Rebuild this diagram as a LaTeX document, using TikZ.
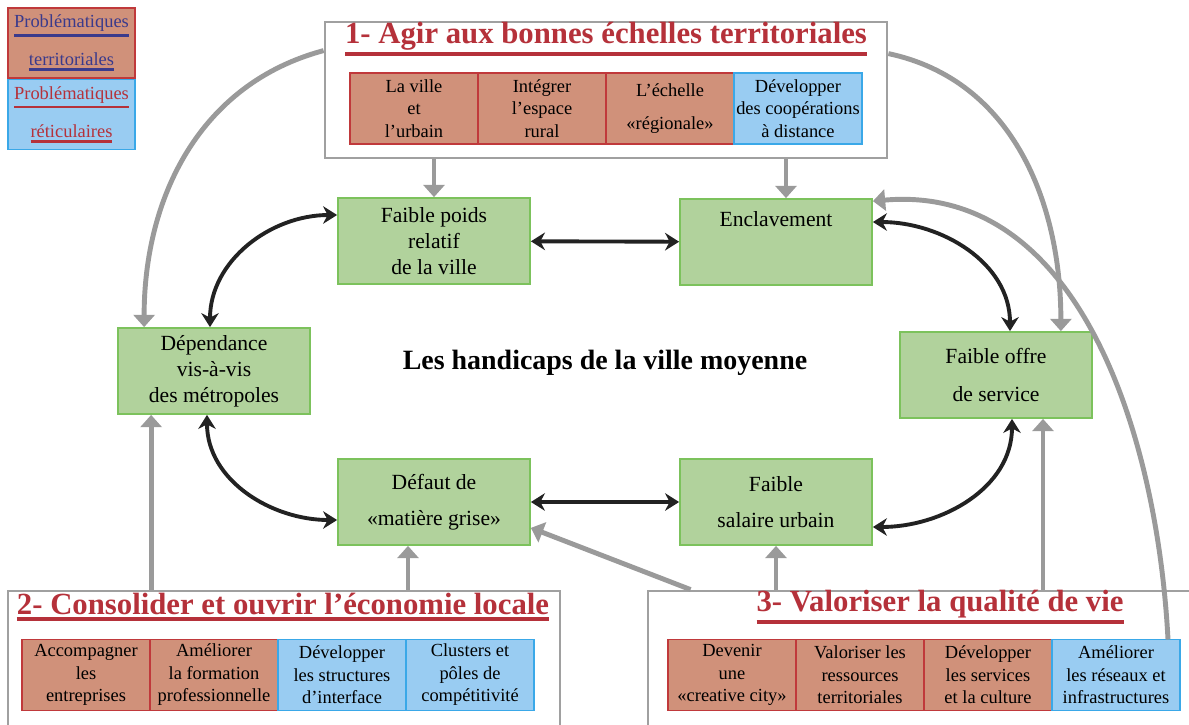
\documentclass[tikz,border=0pt]{standalone}
\usepackage{fontspec}
\setmainfont{Liberation Serif}
\usepackage{tikz}
\usetikzlibrary{positioning,arrows.meta}
\definecolor{brique}{HTML}{D0917A}
\definecolor{rougebord}{HTML}{C0393B}
\definecolor{bleufond}{HTML}{99CCF2}
\definecolor{bleubord}{HTML}{3AA8E8}
\definecolor{vertfond}{HTML}{B1D29C}
\definecolor{vertbord}{HTML}{7CC25C}
\definecolor{grisbord}{HTML}{A0A0A0}
\definecolor{grisfleche}{HTML}{9A9A9A}
\definecolor{rouge}{HTML}{B5313A}
\definecolor{bleunuit}{HTML}{3A3A8C}
\definecolor{noir}{HTML}{222222}
\newcommand\souligne[2][1.6pt]{\setbox0\hbox{#2}\leavevmode\vtop{\copy0\nointerlineskip\kern1.5pt\hbox{\rule{\wd0}{#1}}}}

\begin{document}
\begin{tikzpicture}[
  node distance=0pt,
  probleme/.style={draw=vertbord,fill=vertfond,line width=1pt,minimum width=3.84cm,minimum height=1.72cm,align=center,font=\fontsize{12.3}{14.7}\selectfont},
  axe/.style={draw=grisbord,fill=white,line width=1.6pt,inner sep=0pt},
  terri/.style={draw=rougebord,fill=brique,line width=0.8pt,outer sep=0pt,minimum width=2.56cm,minimum height=1.42cm,align=center,inner sep=1pt,font=\fontsize{10.5}{12.8}\selectfont},
  reti/.style={terri,draw=bleubord,fill=bleufond},
  titre/.style={text=rouge,font=\fontsize{17.5}{20}\selectfont\bfseries,inner sep=0pt},
  legende/.style={minimum width=2.54cm,minimum height=1.4cm,align=center,line width=0.8pt,font=\fontsize{10.5}{12}\selectfont},
  lien/.style={draw=grisfleche,line width=2.8pt,-{Triangle[width=12pt,length=7pt]}},
  reciproque/.style={draw=noir,line width=2.2pt,{Stealth[length=8pt,width=10pt]}-{Stealth[length=8pt,width=10pt]}}
]
\useasboundingbox (0,0) rectangle (23.78,-14.48);
\clip (0,0) rectangle (23.78,-14.48);

\node[legende,draw=rougebord,fill=brique,text=bleunuit] (leg1) at (1.43,-0.86) {\souligne{Problématiques}\\[8pt]\souligne{territoriales}};
\node[legende,draw=bleubord,fill=bleufond,text=rouge,below=of leg1] (leg2) {\souligne{Problématiques}\\[8pt]\souligne{réticulaires}};

\node[axe,minimum width=11.24cm,minimum height=2.72cm] (axe1) at (12.12,-1.8) {};
\node[axe,minimum width=11.04cm,minimum height=3.2cm] (axe2) at (5.68,-13.42) {};
\node[axe,minimum width=12cm,minimum height=3.2cm] (axe3) at (18.96,-13.42) {};

\node[titre] (t1) at (12.12,-0.78) {\souligne[2.2pt]{1- Agir aux bonnes échelles territoriales}};
\node[titre] (t2) at (5.66,-12.14) {\souligne[2.2pt]{2- Consolider et ouvrir l’économie locale}};
\node[titre] (t3) at (18.8,-12.14) {\souligne[2.2pt]{3- Valoriser la qualité de vie}};

\node[terri] (a1) at (8.28,-2.17) {La ville\\et\\l’urbain};
\node[terri,right=of a1] (a2) {Intégrer\\l’espace\\rural};
\node[terri,right=of a2] (a3) {L’échelle\\[6pt]«régionale»};
\node[reti,right=of a3] (a4) {Développer\\des coopérations\\à distance};

\node[terri] (b1) at (1.72,-13.5) {Accompagner\\les\\entreprises};
\node[terri,right=of b1] (b2) {Améliorer\\la formation\\professionnelle};
\node[reti,right=of b2] (b3) {Développer\\les structures\\d’interface};
\node[reti,right=of b3] (b4) {Clusters et\\pôles de\\compétitivité};

\node[terri] (c1) at (14.64,-13.5) {Devenir\\une\\«creative city»};
\node[terri,right=of c1] (c2) {Valoriser les\\ressources\\territoriales};
\node[terri,right=of c2] (c3) {Développer\\les services\\et la culture};
\node[reti,right=of c3] (c4) {Améliorer\\les réseaux et\\infrastructures};

\node[probleme] (poids) at (8.68,-4.82) {Faible poids\\relatif\\de la ville};
\node[probleme] (encl) at (15.52,-4.84) {Enclavement\\[12pt]~};
\node[probleme] (dep) at (4.28,-7.42) {Dépendance\\vis-à-vis\\des métropoles};
\node[probleme] (offre) at (19.92,-7.5) {Faible offre\\[7pt]de service};
\node[probleme] (defaut) at (8.68,-10.04) {Défaut de\\[6pt]«matière grise»};
\node[probleme] (salaire) at (15.52,-10.04) {Faible\\[6pt]salaire urbain};
\node[font=\fontsize{15.9}{18}\selectfont\bfseries] (handicaps) at (12.1,-7.26) {Les handicaps de la ville moyenne};

\path (poids.north |- axe1.south) edge[lien] (poids.north)
([xshift=0.2cm]encl.north |- axe1.south) edge[lien] ([xshift=0.2cm]encl.north)
([yshift=-0.6cm]axe1.north west) edge[lien,out=195,in=90] ([xshift=0.54cm]dep.north west)
([yshift=-0.66cm]axe1.north east) edge[lien,out=-12,in=90] ([xshift=-0.64cm]offre.north east)
([xshift=0.68cm]dep.south west |- axe2.north) edge[lien] ([xshift=0.68cm]dep.south west)
([xshift=-0.52cm]defaut.south |- axe2.north) edge[lien] ([xshift=-0.52cm]defaut.south)
([xshift=0.88cm]axe3.north west) edge[lien] ([yshift=0.36cm]defaut.south east)
(salaire.south |- axe3.north) edge[lien] (salaire.south)
([xshift=0.94cm]offre.south |- axe3.north) edge[lien] ([xshift=0.94cm]offre.south)
([xshift=-0.24cm]c4.north east) edge[lien,out=93,in=5] ([yshift=-0.06cm]encl.north east)
;

\path (poids) edge[reciproque] (encl)
(defaut) edge[reciproque] (salaire)
([xshift=-0.08cm]dep.north) edge[reciproque,out=90,in=180] ([yshift=0.52cm]poids.west)
([xshift=-0.14cm]dep.south) edge[reciproque,out=-90,in=180] ([yshift=-0.36cm]defaut.west)
([yshift=0.4cm]encl.east) edge[reciproque,out=0,in=90] ([xshift=0.28cm]offre.north)
([yshift=-0.5cm]salaire.east) edge[reciproque,out=0,in=-90] ([xshift=0.32cm]offre.south)
;

\end{tikzpicture}
\end{document}
